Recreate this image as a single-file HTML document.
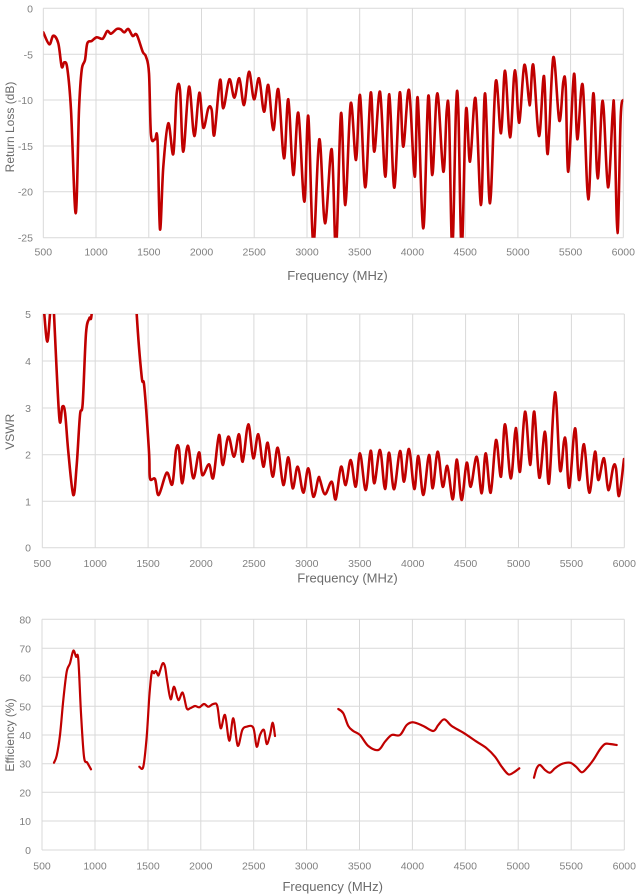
<!DOCTYPE html>
<html><head><meta charset="utf-8"><style>
html,body{margin:0;padding:0;background:#fff;}
svg{display:block;}
text{font-family:"Liberation Sans",sans-serif;}
.t{font-size:10.5px;fill:#808080;}
.ti{font-size:13px;fill:#6b6b6b;}
.ty{font-size:12px;fill:#6b6b6b;}
.g{stroke:#d9d9d9;stroke-width:1;fill:none;}
.s{fill:none;stroke:#c00000;stroke-linejoin:round;stroke-linecap:round;}
</style></head><body>
<svg width="641" height="896" viewBox="0 0 641 896" xmlns="http://www.w3.org/2000/svg">
<defs>
<clipPath id="c1"><rect x="43.3" y="8.3" width="580" height="229.4"/></clipPath>
<clipPath id="c2"><rect x="42.3" y="314" width="582" height="233.7"/></clipPath>
</defs>

<!-- Chart 1 -->
<g class="g">
<path d="M43.3 8.3H623.3M43.3 54.3H623.3M43.3 100H623.3M43.3 146H623.3M43.3 191.7H623.3M43.3 237.7H623.3"/>
<path d="M43.3 8.3V237.7M96 8.3V237.7M148.8 8.3V237.7M201.5 8.3V237.7M254.2 8.3V237.7M307 8.3V237.7M359.7 8.3V237.7M412.4 8.3V237.7M465.2 8.3V237.7M517.9 8.3V237.7M570.6 8.3V237.7M623.3 8.3V237.7"/>
</g>
<g class="t" text-anchor="end">
<text x="33" y="12.3">0</text><text x="33" y="58.3">-5</text><text x="33" y="104">-10</text><text x="33" y="150">-15</text><text x="33" y="195.7">-20</text><text x="33" y="241.7">-25</text>
</g>
<g class="t" text-anchor="middle">
<text x="43.3" y="255.5">500</text><text x="96" y="255.5">1000</text><text x="148.8" y="255.5">1500</text><text x="201.5" y="255.5">2000</text><text x="254.2" y="255.5">2500</text><text x="307" y="255.5">3000</text><text x="359.7" y="255.5">3500</text><text x="412.4" y="255.5">4000</text><text x="465.2" y="255.5">4500</text><text x="517.9" y="255.5">5000</text><text x="570.6" y="255.5">5500</text><text x="623.3" y="255.5">6000</text>
</g>
<text class="ti" x="337.5" y="280" text-anchor="middle">Frequency (MHz)</text>
<text class="ty" x="14" y="127" text-anchor="middle" transform="rotate(-90 14 127)">Return Loss (dB)</text>
<g clip-path="url(#c1)">
<polyline class="s" stroke-width="2.6" points="43.3,32.3 49.3,44.3 53.3,35.7 58.3,43.3 61.7,66.7 64.3,62.3 67.3,68.3 71,110 75.7,213.3 79,110 81.7,70 85,60 87.3,43.3 91.7,41 96.7,37.3 102.7,38.7 107.3,31 111,33.7 116.7,29 120.7,29.3 124.3,32.3 128.3,29 132.7,36 136.7,34.7 142.7,51.7 146,56.7 149,73.3 151,135 155,139.3 157.5,140 160,229.3 163.3,166.7 168.3,123.3 173.3,154 176.7,93.3 180,90 183.3,151.7 189,86.7 194.3,136 199.3,92.7 203.3,127.7 208.3,108.3 211.7,110 214.3,135 220,80 223.3,108.3 229.3,79.3 234.3,97.7 239.3,78.3 244,105 249,71.7 254,99.3 259,78.3 264,111.7 268.3,85 273.3,130 278.3,89.3 284,158.3 288.3,99.3 293.3,175 298.3,112.7 304.3,201.7 308.3,116 313.3,245 319.3,139.3 325,223.3 331.7,149.3 336,250 341,113.3 345.3,205 350.7,103.3 356,160 360,95 365.3,187.3 370.7,92.7 374.3,151.7 380,91.7 385.3,176.7 389.3,94.3 394.3,187.7 399.7,92.7 403.3,146.7 409,90 414.7,176.7 417.7,97.7 423.3,228.3 428.3,96 432.3,175 437.3,93.3 443.3,171.7 446.7,111 449,115 452.3,250 456,108.3 458.3,108.7 461.7,250 466,110 470,161.7 475.5,98.3 481,205 485,93.3 490,203.3 495.7,81.7 501,133.3 505,70.7 510,137.3 514,76.7 516,77.3 519.3,122.7 524.3,65 529,100.7 530.3,101 533.3,65 539,136 544,76 547.7,154 553.3,57.3 559.3,120.7 563.3,81.7 565.7,86.7 568.3,171.7 574,74 577.3,139.3 582.7,85 588.3,199.3 593.3,93.3 597.7,178.3 602.7,100.7 608,187.3 612.7,112.7 614.3,112.7 617.5,233 620.7,116.7 623.3,100"/>
</g>

<!-- Chart 2 -->
<g class="g">
<path d="M42.3 314H624.3M42.3 361H624.3M42.3 408H624.3M42.3 454.7H624.3M42.3 501.3H624.3M42.3 547.7H624.3"/>
<path d="M42.3 314V547.7M95.2 314V547.7M148.1 314V547.7M201 314V547.7M253.9 314V547.7M306.8 314V547.7M359.8 314V547.7M412.7 314V547.7M465.6 314V547.7M518.5 314V547.7M571.4 314V547.7M624.3 314V547.7"/>
</g>
<g class="t" text-anchor="end">
<text x="31" y="318">5</text><text x="31" y="365">4</text><text x="31" y="412">3</text><text x="31" y="458.7">2</text><text x="31" y="505.3">1</text><text x="31" y="551.7">0</text>
</g>
<g class="t" text-anchor="middle">
<text x="42.3" y="567">500</text><text x="95.2" y="567">1000</text><text x="148.1" y="567">1500</text><text x="201" y="567">2000</text><text x="253.9" y="567">2500</text><text x="306.8" y="567">3000</text><text x="359.8" y="567">3500</text><text x="412.7" y="567">4000</text><text x="465.6" y="567">4500</text><text x="518.5" y="567">5000</text><text x="571.4" y="567">5500</text><text x="624.3" y="567">6000</text>
</g>
<text class="ti" x="347.5" y="582.5" text-anchor="middle">Frequency (MHz)</text>
<text class="ty" x="14" y="431.7" text-anchor="middle" transform="rotate(-90 14 431.7)">VSWR</text>
<g clip-path="url(#c2)">
<polyline class="s" stroke-width="2.6" points="43,290 44.3,314 47.3,341.7 50,314 51.5,290 53,290 54,314 59.3,417.7 62.3,406.7 65,412.3 68.3,451.7 73.3,495 76.7,465 80,415 82.7,403.3 86,333.3 89.3,318.3 91.7,313.3 95,250 134,250 136.7,314 141.7,376.7 144.3,386.7 149,451.7 150,478.3 155,479 158.7,495 166.7,472.7 172.3,484.3 176,450 179,449 182.3,483.3 187.7,445.7 193.3,478.3 199,452.3 202.3,475 209,464.3 213.3,477.7 219,435 222.7,465 228.3,436.7 234,456.7 239,434.3 242.7,461.7 248.3,424.3 253.3,458.3 258.3,434.3 263.3,466.7 267.7,442.7 272.7,476.7 277.7,447.7 283.3,485 288.3,457.3 292.7,488.3 297.7,466.7 303.3,492.7 308.3,468.3 313.3,496.7 318.3,478.3 320,480 325,494.3 331.7,481.7 335.7,499.3 341,466.7 345.7,485 350.7,460 355.7,486.7 360,453.3 365.7,490 370.7,450.7 374.3,483.3 380,450 385,489 389,452.7 394,489.3 400,451 404,481.7 409,449 414.3,489 418.3,456 423.3,495 429,455 432.7,488.3 437.7,451.7 442.7,486.7 447.3,466 452.7,499.3 456,464 457.7,464 461.7,500 466.7,462.7 470.7,486.7 476.7,456.7 481.7,493.3 485.7,453.3 490.7,492.7 496,440 501,476.7 505,424.3 510.7,478.3 515,433.3 516.7,433.3 520,471.7 525,411.7 529.3,459 531,459 534.3,411.7 539.3,477.7 545,431.7 549,483.3 555,392.3 560,470 564,441 566,443.3 569.3,487.7 575,428.3 579,480 584,444.3 589.3,492.7 595,451.7 598.3,480 604,458.3 608.3,490 613.3,466.7 616,468.3 619,496 624,459"/>
</g>

<!-- Chart 3 -->
<g class="g">
<path d="M42 619.3H624.3M42 648.3H624.3M42 677.3H624.3M42 706.3H624.3M42 735H624.3M42 763.7H624.3M42 792.3H624.3M42 821H624.3M42 850H624.3"/>
<path d="M42 619.3V850M95 619.3V850M148 619.3V850M200.8 619.3V850M253.7 619.3V850M306.6 619.3V850M359.5 619.3V850M412.4 619.3V850M465.3 619.3V850M518.2 619.3V850M571.2 619.3V850M624.3 619.3V850"/>
</g>
<g class="t" text-anchor="end">
<text x="31" y="623.3">80</text><text x="31" y="652.3">70</text><text x="31" y="681.3">60</text><text x="31" y="710.3">50</text><text x="31" y="739">40</text><text x="31" y="767.7">30</text><text x="31" y="796.3">20</text><text x="31" y="825">10</text><text x="31" y="854">0</text>
</g>
<g class="t" text-anchor="middle">
<text x="42" y="869.5">500</text><text x="95" y="869.5">1000</text><text x="148" y="869.5">1500</text><text x="200.8" y="869.5">2000</text><text x="253.7" y="869.5">2500</text><text x="306.6" y="869.5">3000</text><text x="359.5" y="869.5">3500</text><text x="412.4" y="869.5">4000</text><text x="465.3" y="869.5">4500</text><text x="518.2" y="869.5">5000</text><text x="571.2" y="869.5">5500</text><text x="624.3" y="869.5">6000</text>
</g>
<text class="ti" x="332.7" y="891" text-anchor="middle">Frequency (MHz)</text>
<text class="ty" x="14" y="735" text-anchor="middle" transform="rotate(-90 14 735)">Efficiency (%)</text>
<polyline class="s" stroke-width="2.2" points="54,762.7 56.7,755.7 60,735 63.3,700 66.7,671.7 70,663.3 73.3,650.7 76,656.7 78.3,659.3 81,713.3 84,756.7 87.3,762.7 91,769.3"/>
<polyline class="s" stroke-width="2.2" points="139.3,766.7 143.3,766.7 146.7,736.7 149.3,696.7 151.7,672.7 154,673.3 156,671 158.3,675.7 160,671 162.7,663.3 165,666.7 167.3,681.7 170.7,699.3 174,686.7 178.3,700 182.7,692.7 186.7,708.3 190,708.3 195,706 199.3,707.3 204,704 208.3,706.7 213.3,704 217.3,706 220.7,728.3 225,715 229.3,740.7 233.3,718.3 237.7,745.7 242.3,730 246.7,726.7 253.3,727.7 256.7,746.7 260,735 264,730 266.7,744 270,735 272.7,722.7 275,736"/>
<polyline class="s" stroke-width="2.2" points="338.3,709 343.3,713.3 348.3,726 353.3,731 360,735 368.3,746 378.3,750 385,741.7 391.7,735 400,735 406.7,725 413.3,722.3 423.3,726 433.3,731 438.3,725 444.3,719.3 451.7,726 463.3,732.7 476.7,741.7 486.7,748.3 495,756.7 501.7,766.7 508.3,774.3 513.3,772.7 519.3,768.3"/>
<polyline class="s" stroke-width="2.2" points="534,777.7 536.7,768.3 540,765 545,770 550,772.7 555,768.3 561.7,764 570,762.7 576,766.7 581.7,772.3 586.7,768.3 593.3,760 600,749.3 605,744 610,744 616.7,745"/>
</svg>
<script>
(function(){
  var NS="http://www.w3.org/2000/svg";
  var pls=document.querySelectorAll("polyline.s");
  for(var k=0;k<pls.length;k++){
    var pl=pls[k];
    var raw=pl.getAttribute("points").trim().split(/\s+/);
    var p=[];
    for(var i=0;i<raw.length;i++){var a=raw[i].split(",");p.push([+a[0],+a[1]]);}
    var d="M"+p[0][0]+" "+p[0][1];
    for(var i=0;i<p.length-1;i++){
      var p0=p[i-1]||p[i],p1=p[i],p2=p[i+1],p3=p[i+2]||p[i+1];
      var c1x=p1[0]+(p2[0]-p0[0])/6,c1y=p1[1]+(p2[1]-p0[1])/6;
      var c2x=p2[0]-(p3[0]-p1[0])/6,c2y=p2[1]-(p3[1]-p1[1])/6;
      d+="C"+c1x.toFixed(2)+" "+c1y.toFixed(2)+" "+c2x.toFixed(2)+" "+c2y.toFixed(2)+" "+p2[0]+" "+p2[1];
    }
    var path=document.createElementNS(NS,"path");
    path.setAttribute("d",d);
    path.setAttribute("class","s");
    path.setAttribute("stroke-width",pl.getAttribute("stroke-width"));
    pl.parentNode.replaceChild(path,pl);
  }
})();
</script>
</body></html>
